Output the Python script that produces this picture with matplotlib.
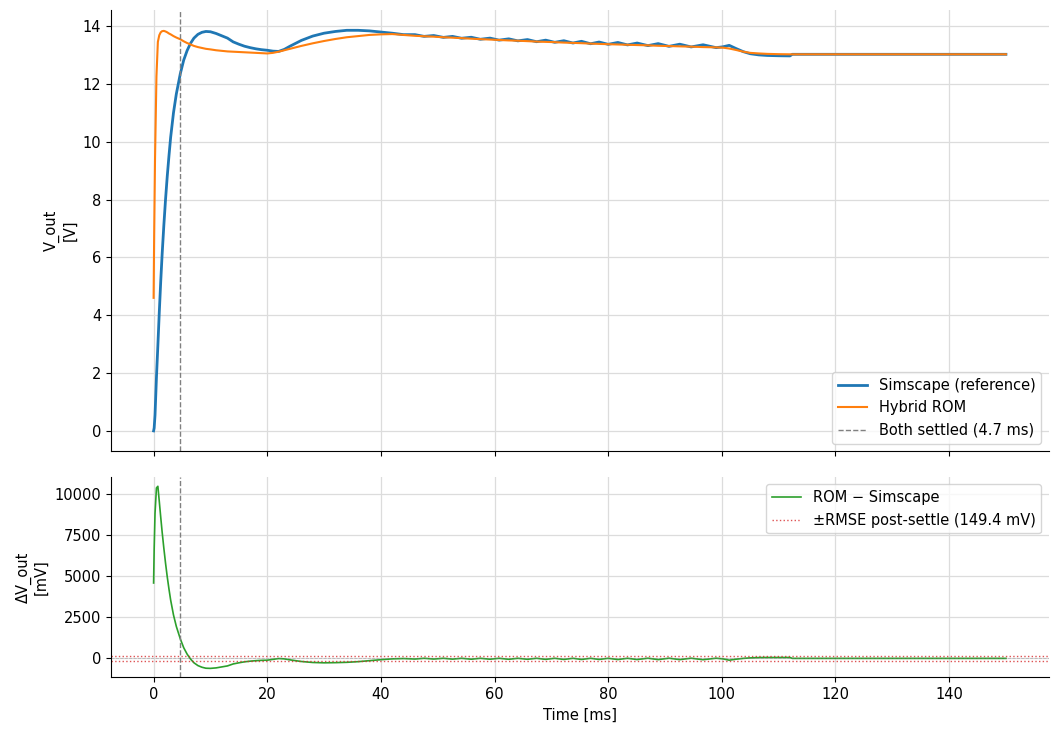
import numpy as np
import matplotlib
matplotlib.use("Agg")
import matplotlib.pyplot as plt

# ---- data ----
t_ms = [0, 0.1, 0.25, 0.5, 0.75, 1.0, 1.25, 1.5, 1.8, 2.1, 2.4, 2.7, 3.0, 3.5, 4.0,
        4.7, 5.3, 5.9, 6.5, 7.1, 7.8, 8.5, 9.2, 10, 11, 12, 13, 14, 15, 16, 17, 18,
        19, 20, 21, 22, 23, 24, 26, 28, 30, 32, 34, 36, 38, 40, 42, 44,
        46, 47.6, 49.3, 51.0, 52.6, 54.2, 55.9, 57.5, 59.2, 60.8, 62.5, 64.1, 65.8,
        67.4, 69.0, 70.6, 72.2, 73.8, 75.3, 76.9, 78.4, 80.0, 81.7, 83.4, 85.1,
        87.0, 88.8, 90.7, 92.6, 94.6, 96.7, 99.0, 100.2, 101.3, 102.5, 103.8, 105,
        106.5, 108, 110, 112, 112.4, 115, 120, 130, 140, 150]

v_rom = [4.60, 6.8, 9.4, 12.25, 13.45, 13.68, 13.78, 13.82, 13.83, 13.81, 13.78, 13.74,
         13.71, 13.65, 13.60, 13.54, 13.47, 13.41, 13.36, 13.31, 13.27, 13.24, 13.21,
         13.19, 13.16, 13.14, 13.12, 13.11, 13.10, 13.09, 13.08, 13.07, 13.06, 13.05,
         13.07, 13.11, 13.16, 13.21, 13.31, 13.40, 13.48, 13.55, 13.61, 13.65, 13.69,
         13.71, 13.72, 13.69,
         13.66, 13.645, 13.63, 13.61, 13.595, 13.58, 13.56, 13.545, 13.53, 13.515,
         13.50, 13.49, 13.475, 13.46, 13.45, 13.44, 13.425, 13.415, 13.405, 13.39,
         13.38, 13.37, 13.36, 13.35, 13.34, 13.33, 13.315, 13.305, 13.295, 13.285,
         13.27, 13.26, 13.25, 13.22, 13.17, 13.11, 13.07, 13.05, 13.035, 13.025,
         13.02, 13.02, 13.02, 13.02, 13.02, 13.02, 13.02]

v_sim = [0.0, 0.1, 0.55, 1.85, 2.95, 4.1, 5.15, 6.1, 7.1, 8.0, 8.8, 9.5, 10.15, 11.0,
         11.65, 12.35, 12.82, 13.15, 13.4, 13.58, 13.71, 13.78, 13.81, 13.80, 13.74,
         13.66, 13.58, 13.45, 13.37, 13.30, 13.25, 13.21, 13.18, 13.16, 13.13, 13.12,
         13.19, 13.30, 13.50, 13.65, 13.75, 13.81, 13.85, 13.85, 13.83, 13.79, 13.75,
         13.70,
         13.70, 13.64, 13.67, 13.605, 13.64, 13.575, 13.61, 13.54, 13.58, 13.51,
         13.555, 13.485, 13.53, 13.455, 13.51, 13.435, 13.49, 13.41, 13.47, 13.385,
         13.445, 13.365, 13.43, 13.345, 13.41, 13.32, 13.39, 13.295, 13.37, 13.275,
         13.35, 13.25, 13.28, 13.33, 13.22, 13.11, 13.04, 13.00, 12.98, 12.97,
         12.965, 13.02, 13.02, 13.02, 13.02, 13.02, 13.02]

dv_ticks = [0, 2500, 5000, 7500, 10000]
t_settle = 4.7      # ms
rmse_mv = 149.4     # mV

# ---- figure ----
plt.rcParams['font.size'] = 10.5
fig, (ax1, ax2) = plt.subplots(2, 1, figsize=(10.57, 7.34), dpi=100, sharex=True,
                               gridspec_kw={'height_ratios': [2.2, 1]})
fig.subplots_adjust(left=0.105, right=0.992, top=0.986, bottom=0.077, hspace=0.082)

t = np.array(t_ms)
rom = np.array(v_rom)
sim = np.array(v_sim)
dv = (rom - sim) * 1000.0

ax1.plot(t, sim, color='#1f77b4', lw=2.0, label='Simscape (reference)')
ax1.plot(t, rom, color='#ff7f0e', lw=1.5, label='Hybrid ROM')
ax1.axvline(t_settle, color='gray', ls='--', lw=1.0,
            label=f'Both settled ({t_settle} ms)')
ax1.set_ylabel('V_out\n[V]')
ax1.legend(loc='lower right')

ax2.plot(t, dv, color='#2ca02c', lw=1.2, label='ROM \u2212 Simscape')
ax2.axhline(rmse_mv, color='#d62728', ls=':', lw=1.0, alpha=0.8,
            label=f'\u00b1RMSE post-settle ({rmse_mv} mV)')
ax2.axhline(-rmse_mv, color='#d62728', ls=':', lw=1.0, alpha=0.8)
ax2.axhline(0, color='gray', ls='--', lw=0.6, alpha=0.4)
ax2.axvline(t_settle, color='gray', ls='--', lw=1.0)
ax2.set_yticks(dv_ticks)
ax2.set_ylabel('\u0394V_out\n[mV]')
ax2.set_xlabel('Time [ms]')
ax2.legend(loc='upper right')

for ax in (ax1, ax2):
    ax.grid(True, color='#dcdcdc', lw=0.9)
    ax.set_axisbelow(True)
    for s in ('top', 'right'):
        ax.spines[s].set_visible(False)

fig.savefig('out.png', dpi=100)
